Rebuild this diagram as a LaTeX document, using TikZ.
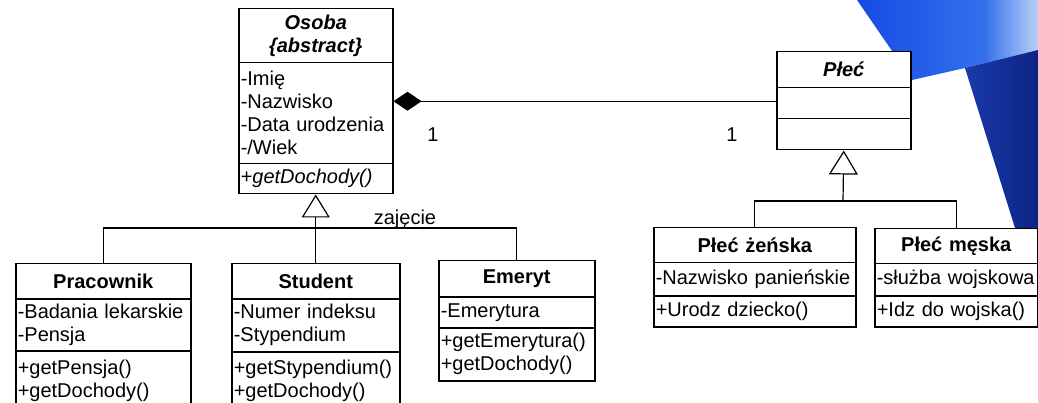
\documentclass[tikz,border=0pt]{standalone}
\usepackage{fontspec}
\setmainfont{Liberation Sans}
\usetikzlibrary{arrows.meta}
\definecolor{lightblueA}{RGB}{22,75,228}
\definecolor{lightblueM}{RGB}{52,112,236}
\definecolor{lightblueB}{RGB}{185,208,248}
\definecolor{navyA}{RGB}{26,58,170}
\definecolor{navyB}{RGB}{12,36,132}
\begin{document}
\begin{tikzpicture}[x=1pt,y=-1pt,
  font=\fontsize{20}{23}\selectfont,
  comp/.style={draw, line width=1.5pt, anchor=north west, inner xsep=2pt, inner ysep=0pt, fill=white},
  hdr/.style={comp, align=center, font=\fontsize{20}{23}\selectfont\bfseries},
  att/.style={comp, align=left},
  link/.style={line width=1.2pt},
  mult/.style={inner sep=0pt},
  gen/.style={link, -{Triangle[open, length=23pt, width=28pt, fill=white]}},
  comps/.style={link, {Diamond[length=28pt, width=19pt]}-}
]
\useasboundingbox (0,0) rectangle (1038,403);
\clip (0,0) rectangle (1038,403);

% background decoration
\begin{scope}
  \clip (857,0) -- (1038,0) -- (1038,50) -- (965,68) -- (912,80) -- cycle;
  \shade[left color=lightblueA, right color=lightblueM] (857,0) rectangle (985,80);
  \shade[left color=lightblueM, right color=lightblueB] (984,0) rectangle (1038,80);
\end{scope}
\begin{scope}
  \clip (965,68) -- (1038,50) -- (1038,228) -- (1015,228) -- cycle;
  \shade[left color=navyA, right color=navyB] (965,50) rectangle (1038,228);
\end{scope}

% Osoba
\node[hdr, font=\fontsize{20}{23}\selectfont\bfseries\itshape, minimum width=154pt, text width=150pt, minimum height=54pt] (osobaH) at (238,8) {Osoba\\\{abstract\}};
\node[att, minimum width=154pt, text width=150pt, minimum height=101pt] (osobaA) at (238,62) {-Imię\\-Nazwisko\\-Data urodzenia\\-/Wiek};
\node[att, minimum width=154pt, text width=150pt, minimum height=30pt] (osobaO) at (238,163) {+\textit{getDochody()}};

% Plec
\node[hdr, font=\fontsize{20}{23}\selectfont\bfseries\itshape, minimum width=134pt, text width=130pt, minimum height=36pt] (plecH) at (776,51) {Płeć};
\node[att, minimum width=134pt, text width=130pt, minimum height=31pt] (plecA) at (776,87) {};
\node[att, minimum width=134pt, text width=130pt, minimum height=31pt] (plecO) at (776,118) {};

% Pracownik
\node[hdr, minimum width=175pt, text width=171pt, minimum height=35pt] (pracH) at (15,263) {Pracownik};
\node[att, minimum width=175pt, text width=171pt, minimum height=52pt] (pracA) at (15,298) {-Badania lekarskie\\-Pensja};
\node[att, minimum width=175pt, text width=171pt, minimum height=60pt] (pracO) at (15,350) {+getPensja()\\+getDochody()};

% Student
\node[hdr, minimum width=168pt, text width=164pt, minimum height=35pt] (studH) at (231,263) {Student};
\node[att, minimum width=168pt, text width=164pt, minimum height=53pt] (studA) at (231,298) {-Numer indeksu\\-Stypendium};
\node[att, minimum width=168pt, text width=164pt, minimum height=59pt] (studO) at (231,351) {+getStypendium()\\+getDochody()};

% Emeryt
\node[hdr, minimum width=156pt, text width=152pt, minimum height=36pt] (emerH) at (438,260) {Emeryt};
\node[att, minimum width=156pt, text width=152pt, minimum height=31pt] (emerA) at (438,296) {-Emerytura};
\node[att, minimum width=156pt, text width=152pt, minimum height=53pt] (emerO) at (438,327) {+getEmerytura()\\+getDochody()};

% Plec zenska
\node[hdr, minimum width=202pt, text width=198pt, minimum height=35pt] (zenH) at (653,227) {Płeć żeńska};
\node[att, minimum width=202pt, text width=198pt, minimum height=33pt] (zenA) at (653,262) {-Nazwisko panieńskie};
\node[att, minimum width=202pt, text width=198pt, minimum height=31pt] (zenO) at (653,295) {+Urodz dziecko()};

% Plec meska
\node[hdr, minimum width=163pt, text width=159pt, minimum height=35pt] (mesH) at (874,228) {Płeć męska};
\node[att, minimum width=163pt, text width=159pt, minimum height=32pt] (mesA) at (874,263) {-służba wojskowa};
\node[att, minimum width=163pt, text width=159pt, minimum height=31pt] (mesO) at (874,295) {+Idz do wojska()};

% composition
\coordinate (cp) at ([yshift=2pt]plecA.west);
\draw[comps] (osobaA.east |- cp) -- (cp);
\node[mult] (m1) at (433,135) {1};
\node[mult] (m2) at (732,135) {1};

% generalization Osoba
\coordinate (j1) at (315,228);
\draw[link] (pracH.north) |- (j1) -| (emerH.north);
\draw[gen] (studH.north) -- (osobaO.south);
\node[mult, anchor=base] (zaj) at (405,225) {zajęcie};

% generalization Plec
\coordinate (j2) at (843,201);
\draw[link] (zenH.north) |- (j2) -| (mesH.north);
\draw[link, -{Triangle[open, length=24pt, width=29pt, fill=white]}] (j2) -- (plecO.south);
\end{tikzpicture}
\end{document}
